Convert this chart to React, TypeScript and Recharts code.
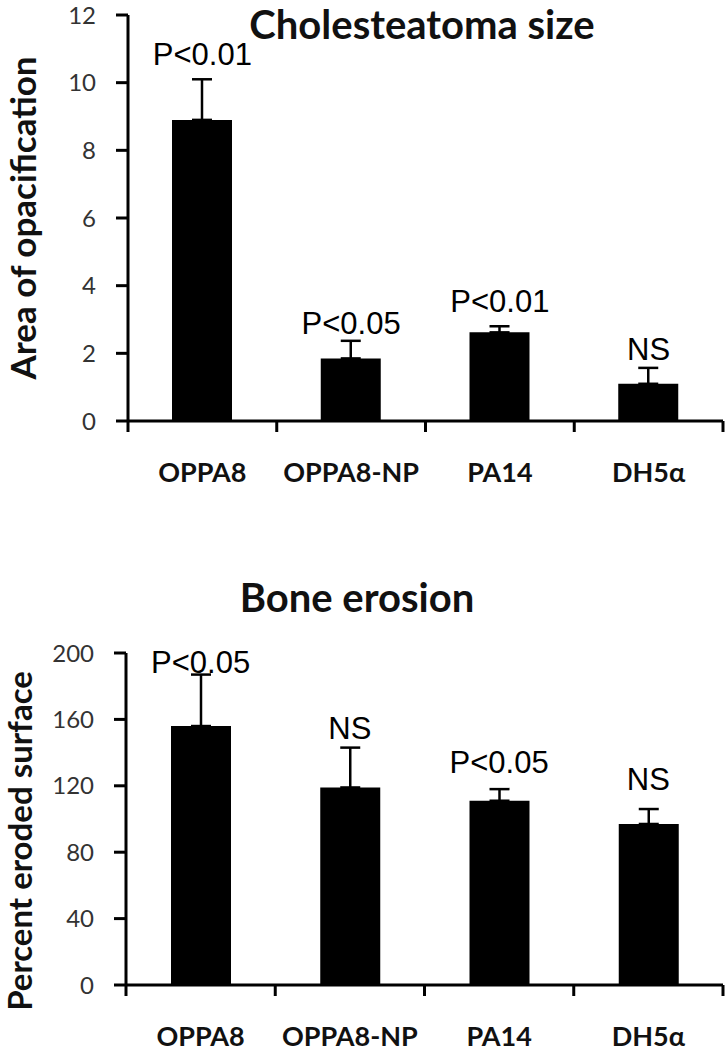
import React from 'react';
import { ComposedChart, Bar, Line, XAxis, YAxis, ErrorBar, LabelList } from 'recharts';

const strains = ['OPPA8', 'OPPA8-NP', 'PA14', 'DH5α'];

// Cholesteatoma size (area of opacification)
const sizeMeans = [8.9, 1.85, 2.62, 1.1];
const sizeErrors = [1.2, 0.52, 0.18, 0.47];
const sizeNotes = ['P<0.01', 'P<0.05', 'P<0.01', 'NS'];
const sizeTicks = [0, 2, 4, 6, 8, 10, 12];

// Bone erosion (percent eroded surface)
const erosionMeans = [156, 119, 111, 97];
const erosionErrors = [31, 24, 7, 9];
const erosionNotes = ['P<0.05', 'NS', 'P<0.05', 'NS'];
const erosionTicks = [0, 40, 80, 120, 160, 200];

// gap (px) between the top of each error bar and its note
const sizeNoteGap = [25, 17, 25, 18];
const erosionNoteGap = [12, 19, 27, 30];

const groupTicks = [0, 0.5, 1, 1.5, 2, 2.5, 3, 3.5, 4];

const TICK_FONT = 'Lato, "DejaVu Sans", sans-serif';
const NOTE_FONT = '"Liberation Sans", Arial, sans-serif';

const buildRows = (means: number[], errors: number[], notes: string[]) =>
  strains.map((name, i) => ({
    pos: i + 0.5,
    name,
    mean: means[i],
    err: [0, errors[i]],
    upper: means[i] + errors[i],
    note: notes[i],
  }));

const sizeRows = buildRows(sizeMeans, sizeErrors, sizeNotes);
const erosionRows = buildRows(erosionMeans, erosionErrors, erosionNotes);

// boundary tick marks on whole numbers, strain names in between
const GroupTick = (props: any) => {
  const { x, y, payload } = props;
  const v = payload.value;
  if (Number.isInteger(v)) {
    return <line x1={x} x2={x} y1={y} y2={y + 11} stroke="#000" strokeWidth={3} />;
  }
  return (
    <text
      x={x}
      y={y + 50}
      textAnchor="middle"
      dominantBaseline="central"
      fontFamily={TICK_FONT}
      fontWeight={700}
      fontSize={27}
      fill="#111"
    >
      {strains[Math.floor(v)]}
    </text>
  );
};

const AxisTitle = (props: any) => {
  const { viewBox, text, dx, dy, size } = props;
  if (!viewBox) return null;
  const cx = viewBox.x + dx;
  const cy = viewBox.y + viewBox.height / 2 + dy;
  return (
    <text
      x={cx}
      y={cy}
      transform={`rotate(-90 ${cx} ${cy})`}
      textAnchor="middle"
      dominantBaseline="central"
      fontFamily={TICK_FONT}
      fontWeight={700}
      fontSize={size}
      fill="#111"
    >
      {text}
    </text>
  );
};

const noteRenderer = (gaps: number[]) => (props: any) => {
  const { x, y, value, index } = props;
  return (
    <text
      x={x}
      y={y - gaps[index]}
      textAnchor="middle"
      dominantBaseline="central"
      fontFamily={NOTE_FONT}
      fontSize={31}
      fill="#000"
    >
      {value}
    </text>
  );
};

interface PanelProps {
  rows: ReturnType<typeof buildRows>;
  ticks: number[];
  yLabel: string;
  labelDx: number;
  labelDy: number;
  labelSize: number;
  gaps: number[];
  height: number;
  marginTop: number;
  marginBottom: number;
  axisWidth: number;
}

function Panel({ rows, ticks, yLabel, labelDx, labelDy, labelSize, gaps, height, marginTop, marginBottom, axisWidth }: PanelProps) {
  const max = ticks[ticks.length - 1];
  return (
    <ComposedChart
      width={727}
      height={height}
      data={rows}
      margin={{ top: marginTop, right: 4, bottom: marginBottom, left: 0 }}
    >
      <XAxis
        dataKey="pos"
        type="number"
        domain={[0, 4]}
        ticks={groupTicks}
        interval={0}
        tick={<GroupTick />}
        tickLine={false}
        tickSize={0}
        tickMargin={0}
        height={60}
        axisLine={{ stroke: '#000', strokeWidth: 3 }}
      />
      <YAxis
        type="number"
        domain={[0, max]}
        ticks={ticks}
        interval={0}
        width={axisWidth}
        tickSize={12}
        tickMargin={20}
        tick={{ fontFamily: TICK_FONT, fontSize: 24, fill: '#333' }}
        tickLine={{ stroke: '#000', strokeWidth: 3 }}
        axisLine={{ stroke: '#000', strokeWidth: 3 }}
        label={<AxisTitle text={yLabel} dx={labelDx} dy={labelDy} size={labelSize} />}
      />
      <Bar dataKey="mean" fill="#000" barSize={60} isAnimationActive={false}>
        <ErrorBar dataKey="err" direction="y" width={10} stroke="#000" strokeWidth={2.5} />
      </Bar>
      <Line
        dataKey="upper"
        stroke="none"
        dot={false}
        activeDot={false}
        legendType="none"
        isAnimationActive={false}
      >
        <LabelList dataKey="note" content={noteRenderer(gaps)} />
      </Line>
    </ComposedChart>
  );
}

const titleStyle: React.CSSProperties = {
  position: 'absolute',
  transform: 'translate(-50%, -50%)',
  whiteSpace: 'nowrap',
  fontFamily: TICK_FONT,
  fontWeight: 700,
  fontSize: 40,
  lineHeight: 1,
  color: '#111',
};

export default function App() {
  return (
    <div style={{ position: 'absolute', left: 0, top: 0, width: 727, height: 1050, background: '#fff' }}>
      <div style={{ position: 'absolute', left: 0, top: 0 }}>
        <Panel
          rows={sizeRows}
          ticks={sizeTicks}
          yLabel="Area of opacification"
          labelDx={22}
          labelDy={0}
          labelSize={35}
          gaps={sizeNoteGap}
          height={500}
          marginTop={15}
          marginBottom={19}
          axisWidth={128}
        />
      </div>
      <div style={{ ...titleStyle, left: 422, top: 24 }}>Cholesteatoma size</div>

      <div style={{ position: 'absolute', left: 0, top: 530 }}>
        <Panel
          rows={erosionRows}
          ticks={erosionTicks}
          yLabel="Percent eroded surface"
          labelDx={19}
          labelDy={22}
          labelSize={33}
          gaps={erosionNoteGap}
          height={520}
          marginTop={123}
          marginBottom={5}
          axisWidth={126}
        />
      </div>
      <div style={{ ...titleStyle, left: 357, top: 597 }}>Bone erosion</div>
    </div>
  );
}
